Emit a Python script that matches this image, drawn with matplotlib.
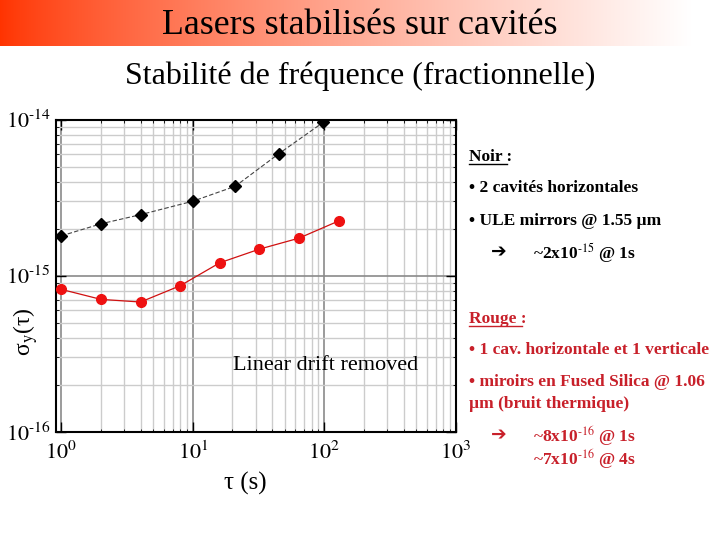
import numpy as np
import matplotlib
matplotlib.use("Agg")
import matplotlib.pyplot as plt
from matplotlib.ticker import LogLocator, FuncFormatter, NullFormatter
from matplotlib.lines import Line2D

plt.rcParams['mathtext.fontset'] = 'stix'
plt.rcParams['font.family'] = ['Liberation Serif', 'DejaVu Sans']

# Data
tau_black = [1, 2, 4, 10, 21, 45, 98]
sigma_black = [1.80e-15, 2.15e-15, 2.46e-15, 3.0e-15, 3.74e-15, 6.04e-15, 9.6e-15]
tau_red = [1, 2, 4, 8, 16, 32, 64, 128]
sigma_red = [8.18e-16, 7.06e-16, 6.79e-16, 8.63e-16, 1.21e-15, 1.48e-15, 1.74e-15, 2.24e-15]

title = "Lasers stabilisés sur cavités"
subtitle = "Stabilité de fréquence (fractionnelle)"
annotation = "Linear drift removed"

fig = plt.figure(figsize=(7.2, 5.4), dpi=100)

# Banner gradient
bax = fig.add_axes([0, 1 - 46/540, 1, 46/540])
xs = np.linspace(0, 1, 720)
t = np.clip(xs / 0.96, 0, 1) ** 0.8
c0 = np.array([1.0, 0.2, 0.0])
grad = c0[None, :] * (1 - t[:, None]) + np.ones(3)[None, :] * t[:, None]
bax.imshow(grad[None, :, :], aspect='auto', extent=[0, 1, 0, 1])
bax.set_axis_off()
fig.text(0.5, 1 - 25/540, title, ha='center', va='center', fontsize=25.8, color='black')
fig.text(0.5, 1 - 76/540, subtitle, ha='center', va='center', fontsize=23, color='black')

ax = fig.add_axes([56/720, 1 - 432/540, (456 - 56)/720, (432 - 119.5)/540])
ax.set_xscale('log')
ax.set_yscale('log')
ax.set_xlim(0.911, 1000)
ax.set_ylim(1e-16, 1e-14)

ax.xaxis.set_major_locator(LogLocator(base=10, numticks=10))
ax.yaxis.set_major_locator(LogLocator(base=10, numticks=10))
ax.xaxis.set_minor_locator(LogLocator(base=10, subs=np.arange(2, 10), numticks=20))
ax.yaxis.set_minor_locator(LogLocator(base=10, subs=np.arange(2, 10), numticks=20))
def fmt_fn(v, p):
    e = int(round(np.log10(v)))
    if e < 0:
        return r'$10^{\text{-}%d}$' % (-e)
    return r'$10^{%d}$' % e
fmt = FuncFormatter(fmt_fn)
ax.xaxis.set_major_formatter(fmt)
ax.yaxis.set_major_formatter(fmt)
ax.xaxis.set_minor_formatter(NullFormatter())
ax.yaxis.set_minor_formatter(NullFormatter())

ax.grid(which='major', color='#8a8a8a', linewidth=1.2)
ax.grid(which='minor', color='#cccccc', linewidth=1.0)
ax.set_axisbelow(True)
ax.tick_params(which='both', direction='in', top=True, right=True, colors='black')
ax.tick_params(which='major', length=7, width=1.0, labelsize=16)
ax.tick_params(axis='x', which='major', pad=7)
ax.tick_params(axis='y', which='major', pad=4)
for s in ax.spines.values():
    s.set_linewidth(1.5)
    s.set_color('black')

ax.plot(tau_black, sigma_black, color='#444444', lw=0.8, ls=(0, (4, 2)),
        marker='D', ms=6, mfc='black', mec='black', zorder=3)
ax.plot(tau_red, sigma_red, color='#d01010', lw=0.9,
        marker='o', ms=7, mfc='#ee1111', mec='#ee1111', zorder=3)

ax.text(0.675, 0.214, annotation, transform=ax.transAxes, fontsize=16,
        ha='center', va='center')

ax.set_xlabel("τ (s)", fontsize=18)
ax.xaxis.set_label_coords(0.4725, -0.128)
ax.set_ylabel(r"σ$_\mathrm{y}$(τ)", fontsize=17)
ax.yaxis.set_label_coords(-0.04, 0.32)

# Right-hand text
red = '#c8202a'
fs = 12.5
W, H = 720, 540
def ft(x, y, s, color='black', **kw):
    kw.setdefault('fontweight', 'bold')
    kw.setdefault('fontsize', fs)
    return fig.text(x / W, 1 - y / H, s, ha='left', va='center',
                    color=color, **kw)

t1 = ft(469, 157, "Noir :")
ft(469, 188, "• 2 cavités horizontales")
ft(469, 221, "• ULE mirrors @ 1.55 µm")
ft(491, 253, "➔", fontsize=13.5)
ft(533, 253, r"~2x10$^{\text{-}15}$ @ 1s")
t2 = ft(469, 319, "Rouge :", color=red)
ft(469, 350, "• 1 cav. horizontale et 1 verticale", color=red)
ft(469, 382, "• miroirs en Fused Silica @ 1.06", color=red)
ft(469, 404, "µm (bruit thermique)", color=red)
ft(491, 436, "➔", color=red, fontsize=13.5)
ft(533, 436, r"~8x10$^{\text{-}16}$ @ 1s", color=red)
ft(533, 459, r"~7x10$^{\text{-}16}$ @ 4s", color=red)

fig.canvas.draw()
r = fig.canvas.get_renderer()
for tt, col in ((t1, 'black'), (t2, red)):
    bb = tt.get_window_extent(r)
    x0, x1 = bb.x0 / W, (bb.x1 - 5) / W
    y = (bb.y0 + 1) / H
    fig.add_artist(Line2D([x0, x1], [y, y], color=col, lw=1.0,
                          transform=fig.transFigure))

fig.savefig('out.png', dpi=100)
